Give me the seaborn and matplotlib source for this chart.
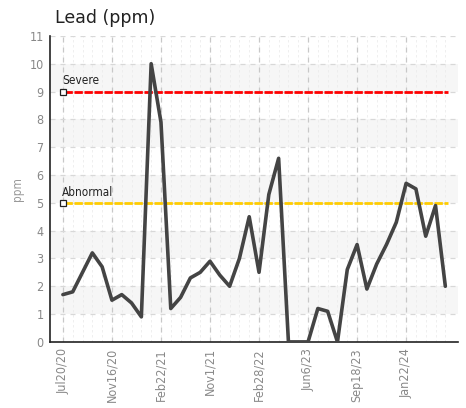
import numpy as np
import pandas as pd
import matplotlib
matplotlib.use("Agg")
import matplotlib.pyplot as plt
import seaborn as sns

lead_ppm = [1.7, 1.8, 2.5, 3.2, 2.7, 1.5, 1.7, 1.4, 0.9, 10.0,
            7.9, 1.2, 1.6, 2.3, 2.5, 2.9, 2.4, 2.0, 3.0, 4.5,
            2.5, 5.3, 6.6, 0.0, 0.0, 0.0, 1.2, 1.1, 0.0, 2.6,
            3.5, 1.9, 2.8, 3.5, 4.3, 5.7, 5.5, 3.8, 4.9, 2.0]
tick_pos = [0, 5, 10, 15, 20, 25, 30, 35]
tick_labels = ["Jul20/20", "Nov16/20", "Feb22/21", "Nov1/21",
               "Feb28/22", "Jun6/23", "Sep18/23", "Jan22/24"]
limit_names = ["Severe", "Abnormal"]
limit_values = [9, 5]
limit_colors = ["#ff0000", "#ffcc00"]

sns.set_style("white")
plt.rcParams["font.family"] = ["DejaVu Sans"]
plt.rcParams["font.stretch"] = "condensed"

df = pd.DataFrame({"sample": np.arange(len(lead_ppm)), "ppm": lead_ppm})

fig = plt.figure(figsize=(4.66, 4.08), dpi=100)
ax = fig.add_axes([0.107, 0.162, 0.876, 0.75])

# alternating bands
for y0 in range(1, 11, 2):
    ax.axhspan(y0, y0 + 1, color="#f6f6f6", zorder=0, lw=0)

# minor grid for every sample
for i in range(len(lead_ppm)):
    ax.axvline(i, color="#ececec", lw=0.6, ls=(0, (3, 3)), zorder=0.5)
for t in tick_pos:
    ax.axvline(t, color="#c8c8c8", lw=0.9, ls=(0, (4, 4)), zorder=0.6)
for y in range(1, 12):
    ax.axhline(y, color="#d8d8d8", lw=0.9, ls=(0, (4, 4)), zorder=0.6)

for name, val, col in zip(limit_names, limit_values, limit_colors):
    ax.plot([0.15, 39.3], [val, val], color=col, lw=2, ls=(0, (3, 0.6)), zorder=2)
    ax.plot([0], [val], marker="s", ms=4, mfc="white", mec="#222222", mew=0.9,
            zorder=3, clip_on=False)
    ax.text(-0.1, val + 0.15, name, fontsize=8.5, color="#222222", ha="left", va="bottom")

sns.lineplot(data=df, x="sample", y="ppm", ax=ax, color="#444444", lw=2.6, zorder=4)

ax.set_xlim(-1.33, 40.3)
ax.set_ylim(0, 11)
ax.set_yticks(range(0, 12))
ax.set_xticks(tick_pos)
ax.set_xticklabels(tick_labels, rotation=90)
ax.set_xticks(range(len(lead_ppm)), minor=True)
ax.tick_params(axis="both", labelsize=9, labelcolor="#888888", color="#222222")
ax.tick_params(axis="x", which="major", length=5, direction="inout", width=1.2, pad=2)
ax.tick_params(axis="x", which="minor", length=2.5, direction="in", width=0.6)
ax.tick_params(axis="y", length=5, direction="inout", width=1.2, pad=2)

for s in ["top", "right"]:
    ax.spines[s].set_visible(False)
for s in ["left", "bottom"]:
    ax.spines[s].set_color("#222222")
    ax.spines[s].set_linewidth(1.2)

ax.set_xlabel("")
ax.set_ylabel("ppm", fontsize=8.5, color="#999999", labelpad=4)
fig.text(0.118, 0.955, "Lead (ppm)", fontsize=12.5, color="#222222",
         stretch="normal", ha="left", va="center")

fig.savefig("out.png", dpi=100)
